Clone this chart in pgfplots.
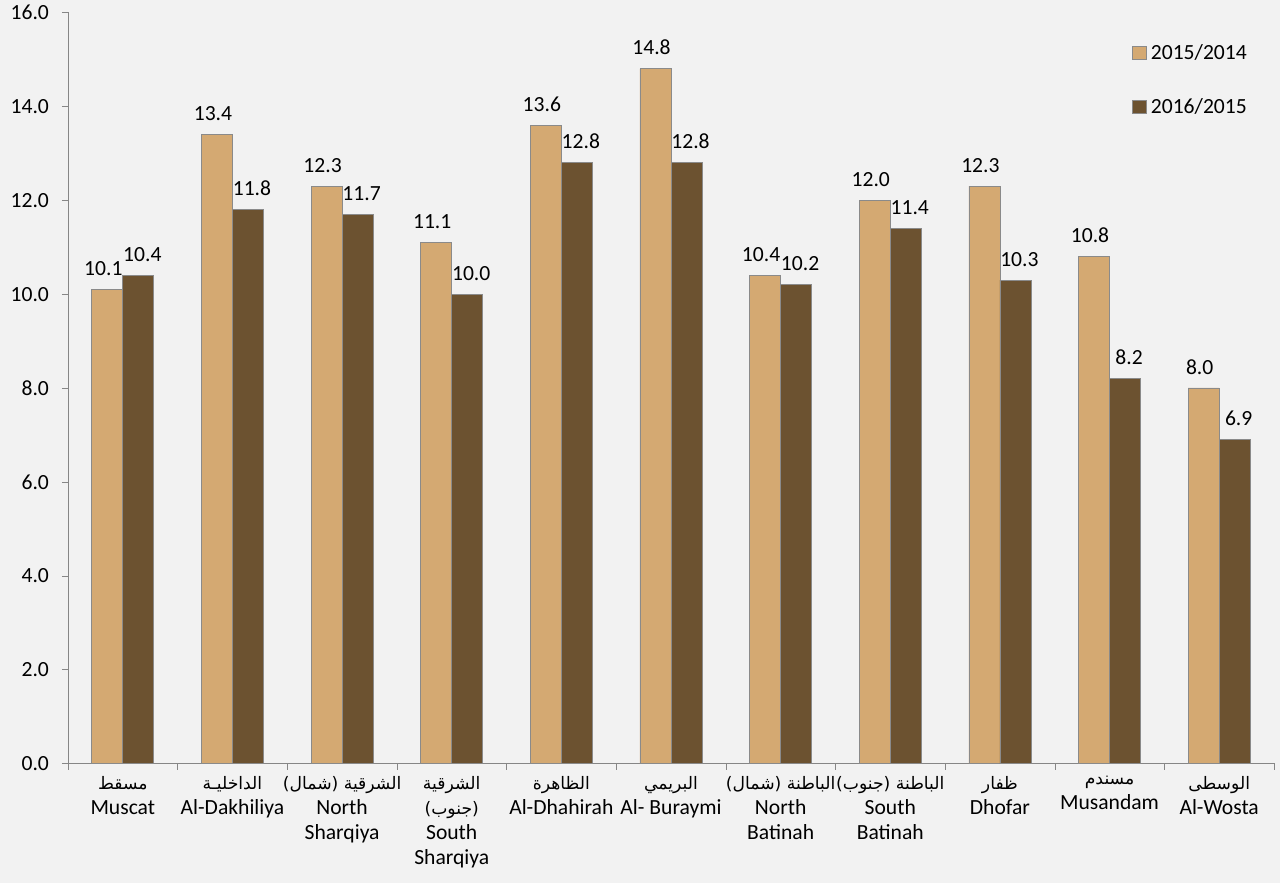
\documentclass[border=0pt]{standalone}
\usepackage{fontspec}
\setmainfont{Carlito}
\newfontfamily\arabicfont[Script=Arabic]{DejaVu Sans}
\TeXXeTstate=1
\usepackage{pgfplots}
\pgfplotsset{compat=1.18}
\definecolor{bgc}{HTML}{F2F2F2}
\definecolor{lightbar}{HTML}{D4A972}
\definecolor{darkbar}{HTML}{6C5230}
\definecolor{axc}{HTML}{868686}
\definecolor{barline}{HTML}{8A8A8A}
\newcommand\arsz{\arabicfont\fontsize{8.6}{12.5}\selectfont}
\pgfplotstableread{
x a b
1 10.1 10.4
2 13.4 11.8
3 12.3 11.7
4 11.1 10.0
5 13.6 12.8
6 14.8 12.8
7 10.4 10.2
8 12.0 11.4
9 12.3 10.3
10 10.8 8.2
11 8.0 6.9
}\datatable
\begin{document}
\begin{tikzpicture}
\fill[bgc] (-34pt,-59.75pt) rectangle (606pt,381.75pt);
\useasboundingbox (-34pt,-59.75pt) rectangle (606pt,381.75pt);
\begin{axis}[
  at={(0,0)}, anchor=south west,
  scale only axis, width=603pt, height=375.5pt,
  xmin=0.5, xmax=11.5, ymin=0, ymax=16,
  ybar, bar width=0.2828,
  axis x line*=bottom, axis y line*=left,
  axis line style={axc,-},
  x axis line style={-}, y axis line style={-},
  tick align=outside,
  major tick length=3pt, minor tick length=3pt,
  ytick={0,2,...,16},
  yticklabel style={/pgf/number format/fixed, /pgf/number format/fixed zerofill, /pgf/number format/precision=1, font=\fontsize{10.8}{13}\selectfont, xshift=-3pt},
  /pgf/number format/assume math mode=true,
  y tick style={axc},
  xtick={1,...,11},
  major x tick style={draw=none},
  minor xtick={0.5,1.5,...,11.5},
  minor x tick style={axc},
  xticklabel style={align=center, font=\fontsize{10.8}{12.5}\selectfont},
  xticklabels={
    {{\arsz\beginR مسقط\endR}\\Muscat},
    {{\arsz\beginR الداخليـة\endR}\\Al-Dakhiliya},
    {{\arsz\beginR الشرقية (شمال)\endR}\\North\\Sharqiya},
    {{\arsz\beginR الشرقية\endR}\\{\arsz\beginR (جنوب)\endR}\\South\\Sharqiya},
    {{\arsz\beginR الظاهرة\endR}\\Al-Dhahirah},
    {{\arsz\beginR البريمي\endR}\\Al- Buraymi},
    {{\arsz\beginR الباطنة (شمال)\endR}\\North\\Batinah},
    {{\arsz\beginR الباطنة (جنوب)\endR}\\South\\Batinah},
    {{\arsz\beginR ظفار\endR}\\Dhofar},
    {{\arsz\beginR مسندم\endR}\\Musandam},
    {{\arsz\beginR الوسطى\endR}\\Al-Wosta}
  },
  nodes near coords,
  nodes near coords style={font=\fontsize{10.8}{13}\selectfont, /pgf/number format/fixed, /pgf/number format/fixed zerofill, /pgf/number format/precision=1, black, yshift=3.3pt},
  legend style={at={(0.877,0.969)}, anchor=north west, draw=none, fill=none, row sep=14pt, font=\fontsize{10.8}{13}\selectfont, cells={anchor=west}},
  legend image code/.code={\draw[#1, draw=barline] (0pt,-3.2pt) rectangle (7pt,3.2pt);},
]
\addplot[fill=lightbar, draw=barline, bar shift=-0.1414, nodes near coords style={xshift=-2pt}] table[x=x, y=a] {\datatable};
\addlegendentry{2015/2014}
\addplot[fill=darkbar, draw=barline, bar shift=0.1414, nodes near coords style={xshift=2pt}] table[x=x, y=b] {\datatable};
\addlegendentry{2016/2015}
\end{axis}
\end{tikzpicture}
\end{document}
